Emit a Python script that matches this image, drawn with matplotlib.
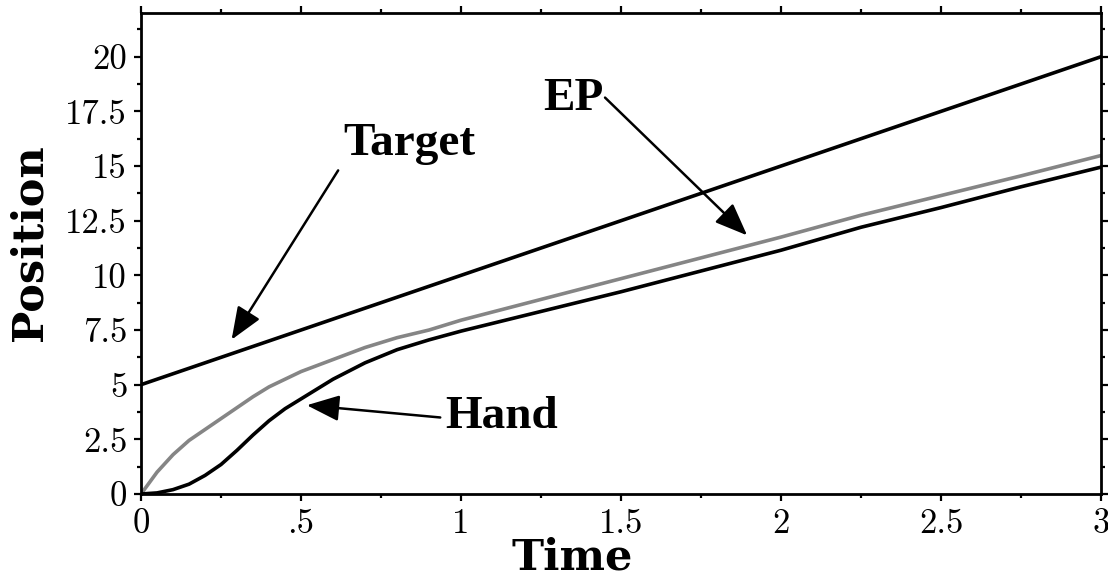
import matplotlib
matplotlib.use("Agg")
import matplotlib.pyplot as plt
from matplotlib.ticker import MultipleLocator

# time samples and positions of the hand and the equilibrium point (EP)
time = [0, 0.05, 0.1, 0.15, 0.2, 0.25, 0.3, 0.35, 0.4, 0.45, 0.5, 0.6, 0.7,
        0.8, 0.9, 1.0, 1.25, 1.5, 1.75, 2.0, 2.25, 2.5, 2.75, 3.0]
hand = [0, 0.05, 0.2, 0.45, 0.85, 1.35, 2.0, 2.7, 3.35, 3.9, 4.35, 5.25, 6.0,
        6.6, 7.05, 7.45, 8.35, 9.25, 10.2, 11.15, 12.2, 13.1, 14.05, 14.95]
ep = [0, 1.0, 1.8, 2.45, 2.95, 3.45, 3.95, 4.45, 4.9, 5.25, 5.6, 6.15, 6.7,
      7.15, 7.5, 7.95, 8.9, 9.85, 10.8, 11.75, 12.75, 13.65, 14.55, 15.48]
target_time = [0, 3]
target = [5, 20]

xticks = [0, 0.5, 1, 1.5, 2, 2.5, 3]
xticklabels = ['0', '.5', '1', '1.5', '2', '2.5', '3']
yticks = [0, 2.5, 5, 7.5, 10, 12.5, 15, 17.5, 20]
yticklabels = ['0', '2.5', '5', '7.5', '10', '12.5', '15', '17.5', '20']

tickfont = {'family': 'cmr10', 'size': 25}
labelfont = {'family': 'DejaVu Serif', 'weight': 'bold', 'size': 31}
notefont = {'family': 'Liberation Serif', 'weight': 'bold', 'size': 34}

fig = plt.figure(figsize=(11.08, 5.82), dpi=100)
ax = fig.add_axes([0.1273, 0.1512, 0.8664, 0.8265])

ax.plot(target_time, target, color='black', linewidth=2.6)
ax.plot(time, ep, color='#858585', linewidth=2.6)
ax.plot(time, hand, color='black', linewidth=2.6)

ax.set_xlim(0, 3)
ax.set_ylim(0, 22)
ax.set_xticks(xticks, xticklabels, fontdict=tickfont)
ax.set_yticks(yticks, yticklabels, fontdict=tickfont)
ax.xaxis.set_minor_locator(MultipleLocator(0.25))
ax.yaxis.set_minor_locator(MultipleLocator(1.25))
ax.tick_params(which='both', direction='out', top=True, right=True,
               width=1.6, color='black')
ax.tick_params(which='major', length=5, pad=5)
ax.tick_params(which='minor', length=3)
for s in ax.spines.values():
    s.set_linewidth(2)

ax.set_xlabel('Time', fontdict=labelfont, va='center')
ax.xaxis.set_label_coords(0.449, -0.131)
ax.set_ylabel('Position', fontdict=labelfont, va='center')
ax.yaxis.set_label_coords(-0.116, 0.523)

arrow = dict(arrowstyle='-|>,head_length=1.0,head_width=0.4',
             color='black', linewidth=1.8, mutation_scale=20,
             shrinkA=0, shrinkB=0)
ax.annotate('', xy=(0.283, 7.06), xytext=(0.616, 14.8), arrowprops=arrow)
ax.annotate('', xy=(1.894, 11.83), xytext=(1.45, 18.13), arrowprops=arrow)
ax.annotate('', xy=(0.518, 4.06), xytext=(0.935, 3.5), arrowprops=arrow)

ax.text(0.84, 16.0, 'Target', fontdict=notefont, ha='center', va='center')
ax.text(1.35, 18.05, 'EP', fontdict=notefont, ha='center', va='center')
ax.text(1.128, 3.5, 'Hand', fontdict=notefont, ha='center', va='center')

fig.savefig('out.png', dpi=100)
